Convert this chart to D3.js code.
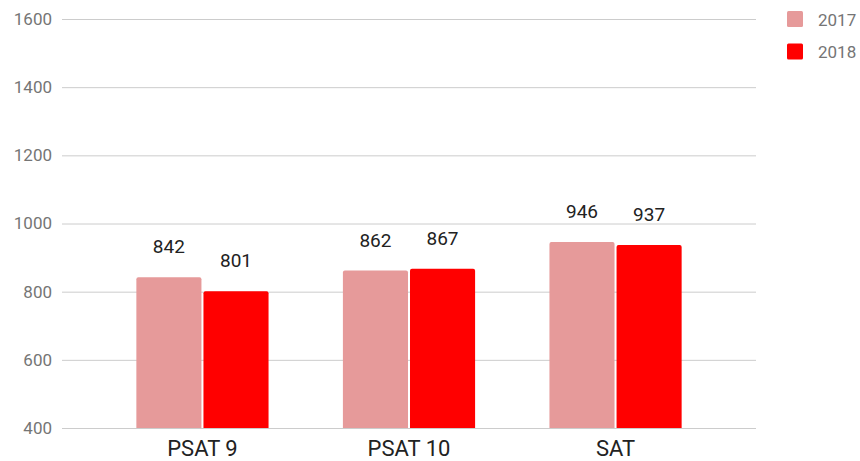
<!DOCTYPE html>
<html>
<head>
<meta charset="utf-8">
<script src="https://cdn.jsdelivr.net/npm/d3@7"></script>
<style>
  html, body { margin: 0; padding: 0; background: #fff; }
  svg { display: block; font-family: Roboto, "Noto Sans", sans-serif; }
</style>
</head>
<body>
<svg id="chart" width="860" height="461"></svg>
<script>
// Average scores by test and year
const categories = ["PSAT 9", "PSAT 10", "SAT"];
const years = ["2017", "2018"];
const scores2017 = [842, 862, 946];
const scores2018 = [801, 867, 937];
const yTicks = [400, 600, 800, 1000, 1200, 1400, 1600];
const colors = ["#e69a9a", "#ff0000"];

const series = [scores2017, scores2018];
const svg = d3.select("#chart");

const plot = { left: 62, right: 756, top: 19, bottom: 428 };

const y = d3.scaleLinear().domain([400, 1600]).range([plot.bottom, plot.top]);
const x0 = d3.scaleBand().domain(categories).range([plot.left, plot.right]).paddingInner(0.36).paddingOuter(0.36);
const x1 = d3.scaleBand().domain(years).range([0, x0.bandwidth()]).paddingInner(0.03);

// Gridlines and y tick labels
const yAxis = d3.axisLeft(y).tickValues(yTicks).tickFormat(d3.format("d"))
  .tickSize(-(plot.right - plot.left)).tickPadding(10);
const gy = svg.append("g").attr("transform", `translate(${plot.left},0)`).call(yAxis);
gy.select(".domain").remove();
gy.selectAll(".tick line").attr("stroke", "#cccccc").attr("stroke-width", 1);
gy.selectAll(".tick text")
  .attr("fill", "#757575")
  .style("font-size", "17px")
  .attr("font-family", "Roboto, sans-serif");

// Bars
const groups = svg.append("g").selectAll("g")
  .data(categories)
  .join("g")
  .attr("transform", d => `translate(${x0(d)},0)`);

groups.selectAll("path")
  .data((d, i) => years.map((yr, j) => ({ yr, j, v: series[j][i] })))
  .join("path")
  .attr("fill", d => colors[d.j])
  .attr("d", d => {
    const x = x1(d.yr), w = x1.bandwidth(), yt = y(d.v), yb = y(400), r = 2;
    return `M${x},${yb}V${yt + r}Q${x},${yt} ${x + r},${yt}H${x + w - r}Q${x + w},${yt} ${x + w},${yt + r}V${yb}Z`;
  });

// Value labels
groups.selectAll("text")
  .data((d, i) => years.map((yr, j) => ({ yr, j, v: series[j][i] })))
  .join("text")
  .attr("x", d => x1(d.yr) + x1.bandwidth() / 2)
  .attr("y", d => y(d.v) - 24)
  .attr("text-anchor", "middle")
  .attr("fill", "#222")
  .style("font-size", "19px")
  .text(d => d.v);

// Category labels
const xAxis = d3.axisBottom(x0).tickSize(0).tickPadding(0);
const gx = svg.append("g").attr("transform", `translate(0,${plot.bottom})`).call(xAxis);
gx.select(".domain").remove();
gx.selectAll(".tick text")
  .attr("dy", null)
  .attr("y", 28)
  .attr("fill", "#222")
  .style("font-size", "22px")
  .attr("font-family", "Roboto, sans-serif");

// Legend
const legend = svg.append("g").selectAll("g")
  .data(years)
  .join("g")
  .attr("transform", (d, i) => `translate(787,${11 + i * 32.5})`);
legend.append("rect")
  .attr("width", 16).attr("height", 16).attr("rx", 1.5)
  .attr("fill", (d, i) => colors[i]);
legend.append("text")
  .attr("x", 31).attr("y", 14.5)
  .attr("fill", "#757575")
  .style("font-size", "17px")
  .text(d => d);
</script>
</body>
</html>
